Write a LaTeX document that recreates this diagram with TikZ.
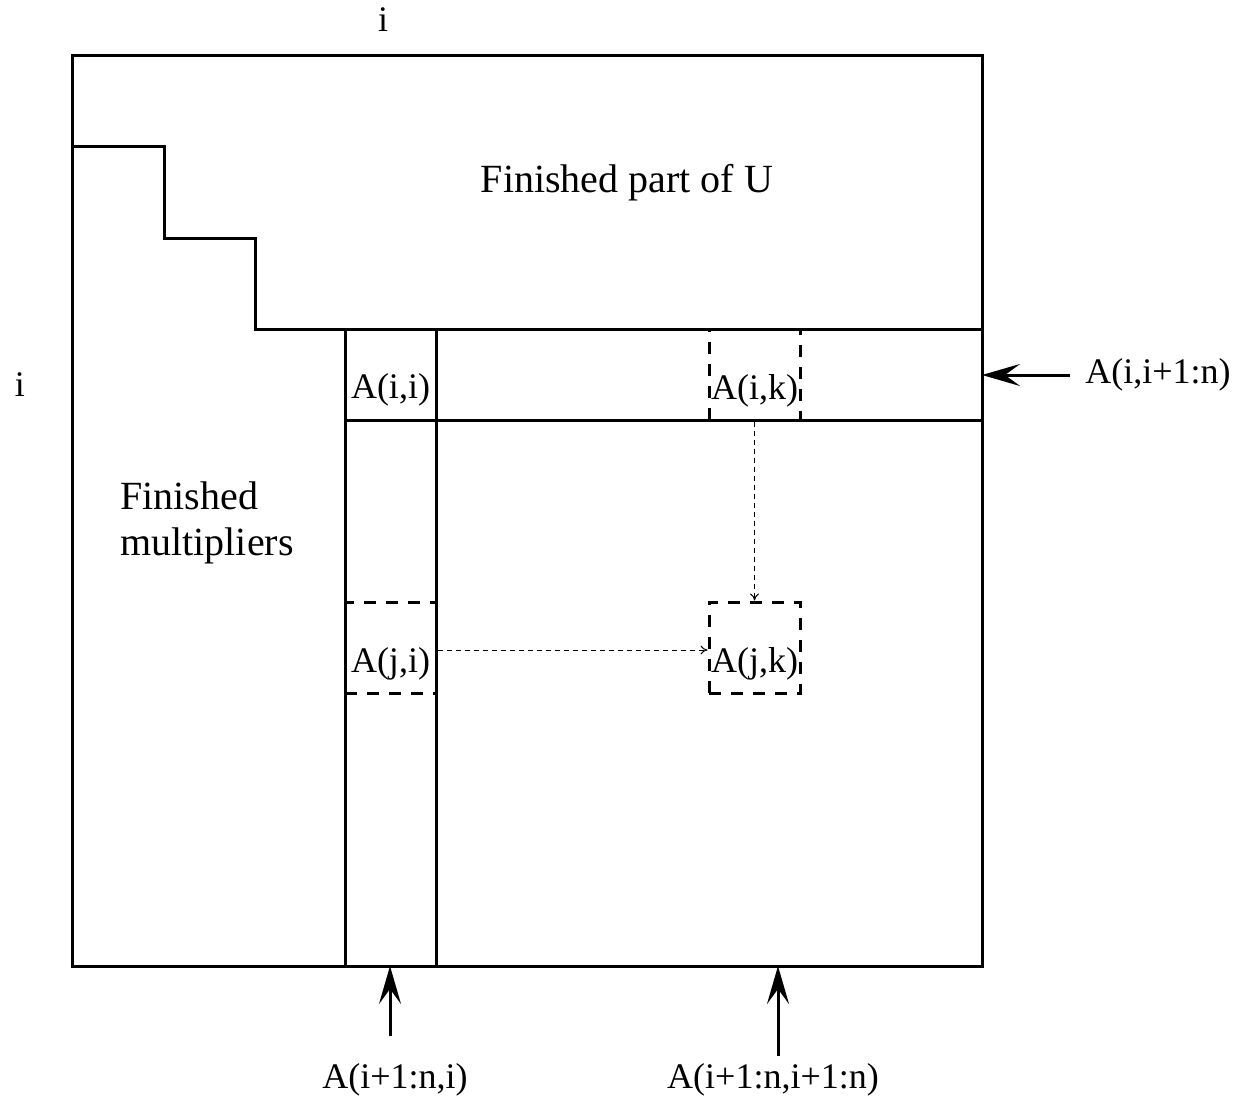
\documentclass[tikz,border=0pt]{standalone}
\usepackage{fontspec}
\setmainfont{Liberation Serif}
\usetikzlibrary{positioning,arrows.meta,calc}

\begin{document}
\begin{tikzpicture}[
  x=1pt, y=-1pt,
  font=\fontsize{36}{45}\selectfont,
  frame/.style  ={line width=3pt, line cap=rect},
  dashbox/.style={draw, dashed, dash pattern=on 12pt off 10pt, line width=3pt,
                  minimum width=91pt, minimum height=91pt, inner sep=0pt},
  cellbox/.style={minimum width=91pt, minimum height=91pt, inner sep=0pt},
  txt/.style    ={inner sep=0pt, anchor=base},
  region/.style ={font=\fontsize{40}{46}\selectfont},
  bigarr/.style ={-{Stealth[length=38pt, width=22pt, inset=15pt]}, line width=3pt},
  dotarr/.style ={-{To[length=7pt, width=9pt]}, line width=1pt,
                  dash pattern=on 5pt off 4pt}
]
\useasboundingbox (0,0) rectangle (1238,1102);

% --- matrix outline and staircase ---
\draw[frame] (72,56) rectangle (982,966);
\draw[frame] (72,147) -| (164,238) -| (255,329) -- (982,329);
\draw[frame] (345,329) -- (345,966);
\draw[frame] (436,329) -- (436,966);
\draw[frame] (345,420) -- (982,420);

% --- cells ---
\node[cellbox]  (aii) at (390.5,374.5) {};
\node[dashbox]  (aik) at (754.5,374.5) {};
\node[dashbox]  (aji) at (390.5,647.5) {};
\node[dashbox]  (ajk) at (754.5,647.5) {};

\node[txt] (aii-t) at ([yshift=22pt]aii.south) {A(i,i)};
\node[txt] (aik-t) at ([yshift=22pt]aik.south) {A(i,k)};
\node[txt] (aji-t) at ([yshift=22pt]aji.south) {A(j,i)};
\node[txt] (ajk-t) at ([yshift=22pt]ajk.south) {A(j,k)};

% --- region labels ---
\node[region] (finu) at (627,183) {Finished part of U};
\node[region, align=left] (finm) at (207,523) {Finished\\multipliers};
\node (itop)  at (383,20)  {i};
\node (ileft) at (20,385)  {i};

% --- update flow ---
\draw[dotarr] (aik.south) -- (ajk.north);
\draw[dotarr] (aji.east |- 0,650) -- (ajk.west |- 0,650);

% --- outside labels with arrows ---
\coordinate (rowend) at (982,375);
\coordinate (colbot) at (390,966);
\coordinate (subbot) at (778,966);

\node[inner sep=0pt] (rowlbl) at (1158,375) {A(i,i+1:n)};
\node[inner sep=0pt] (collbl) at (395,1080) {A(i+1:n,i)};
\node[inner sep=0pt] (sublbl) at (773,1080) {A(i+1:n,i+1:n)};

\draw[bigarr] ([xshift=-15pt]rowlbl.west) -- (rowend);
\draw[bigarr] ([yshift=27pt]collbl.north -| colbot) -- (colbot);
\draw[bigarr] ([yshift=7pt]sublbl.north -| subbot) -- (subbot);

\end{tikzpicture}
\end{document}
